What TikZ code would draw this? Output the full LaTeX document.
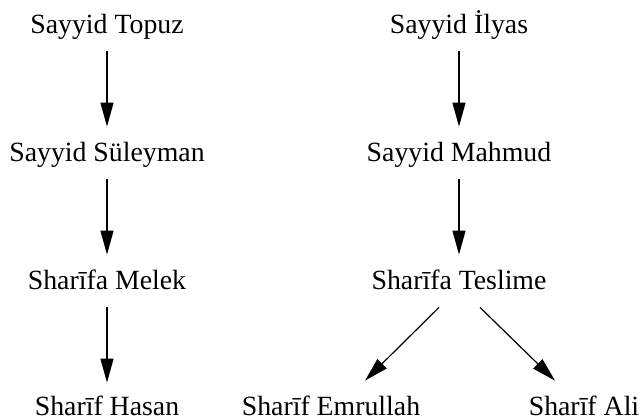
\documentclass[tikz,border=0pt]{standalone}
\usepackage{fontspec}
\setmainfont{Liberation Serif}
\usetikzlibrary{arrows.meta}
\begin{document}
\begin{tikzpicture}[x=0.5pt,y=-0.5pt,
  person/.style={anchor=base,inner sep=0pt,text height=17pt,text depth=9pt,
    font=\fontsize{13.9pt}{16pt}\selectfont},
  leaf/.style={person,text depth=0pt},
  link/.style={line width=0.6pt,-{Triangle[length=12pt,width=6.5pt]}}]
\useasboundingbox (0,0) rectangle (644,418);
\node[person] (top) at (107,33) {Sayyid Topuz};
\node[person] (sul) at (107,161) {Sayyid Süleyman};
\node[person] (mel) at (107,289) {Sharīfa Melek};
\node[leaf] (has) at (107,415.5) {Sharīf Hasan};
\node[person] (ily) at (459,33) {Sayyid İlyas};
\node[person] (mah) at (459,161) {Sayyid Mahmud};
\node[person] (tes) at (459,289) {Sharīfa Teslime};
\node[leaf] (emr) at (331,415.5) {Sharīf Emrullah};
\node[leaf] (ali) at (584,415.5) {Sharīf Ali};
\draw[link] (top.south) -- (sul.north);
\draw[link] (sul.south) -- (mel.north);
\draw[link] (mel.south) -- ([yshift=-0.75pt]has.north);
\draw[link] (ily.south) -- (mah.north);
\draw[link] (mah.south) -- (tes.north);
\draw[link] ([xshift=-10pt]tes.south) -- ([xshift=17pt,yshift=0.25pt]emr.north);
\draw[link] ([xshift=10.5pt]tes.south) -- ([xshift=-14.5pt,yshift=0.25pt]ali.north);
\end{tikzpicture}
\end{document}
